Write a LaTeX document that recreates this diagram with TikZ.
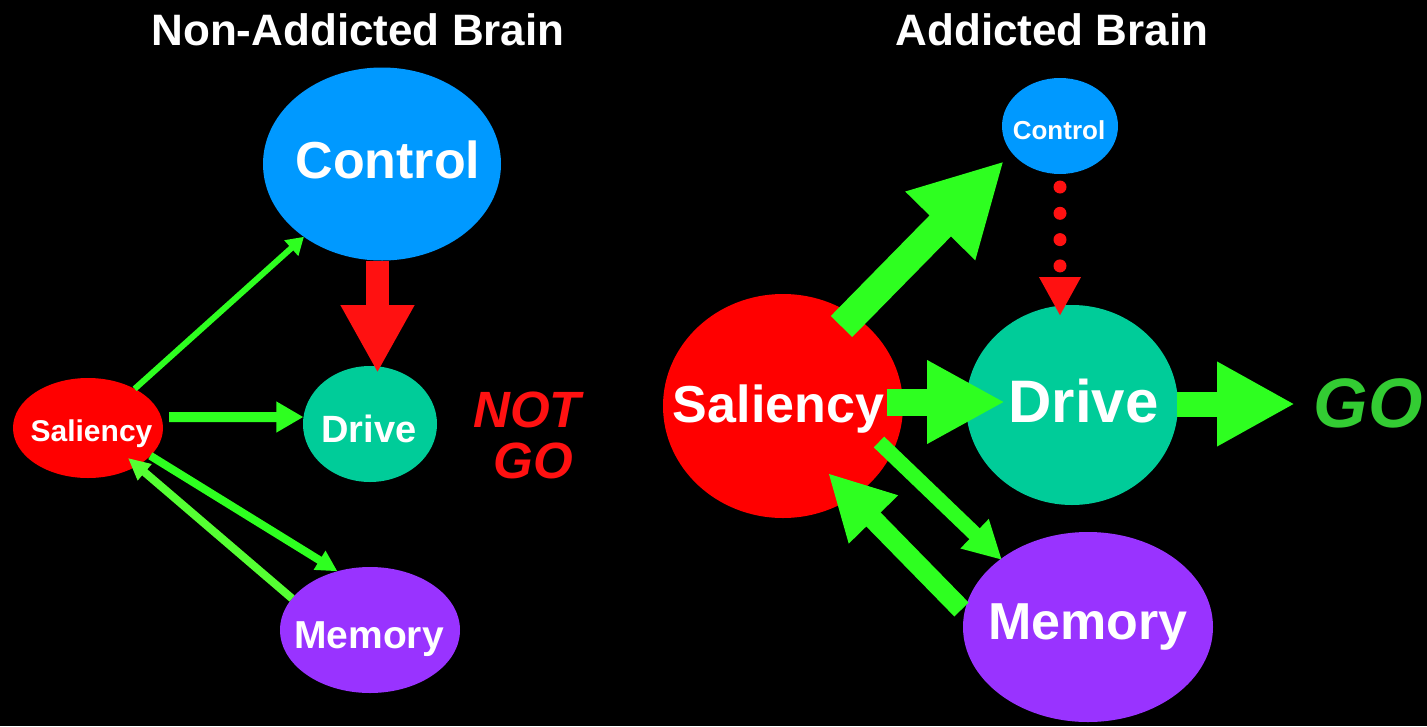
\documentclass[tikz,border=0pt]{standalone}
\usepackage{fontspec}
\setmainfont{Liberation Sans}
\usetikzlibrary{arrows.meta,shapes.geometric,calc}

\definecolor{ctrlblue}{HTML}{0099FF}
\definecolor{drvteal}{HTML}{00CC99}
\definecolor{salred}{HTML}{FF0000}
\definecolor{mempurple}{HTML}{9933FF}
\definecolor{arrgreen}{HTML}{2EFF20}
\definecolor{arrlight}{HTML}{55FF33}
\definecolor{arrred}{HTML}{FF1111}
\definecolor{gogreen}{HTML}{33CC33}

\newcommand{\pxfont}[1]{\fontsize{#1}{#1}\selectfont}

\tikzset{
  bubble/.style={ellipse, inner sep=0pt, outer sep=0pt, draw=none},
  lbl/.style args={#1/#2}{text=white, inner sep=0pt, font=\bfseries\pxfont{#1},
    text height=#2pt, text depth=0pt},
  heading/.style={text=white, inner sep=0pt, font=\bfseries\pxfont{44},
    text height=31.5pt, text depth=0pt},
  verdict/.style={inner sep=0pt, anchor=base, font=\bfseries\itshape\pxfont{#1}},
  thinarr/.style args={#1/#2/#3}{arrgreen, line width=#1pt,
    -{Triangle[length=#2pt,width=#3pt]}},
  blockarr/.style args={#1/#2/#3}{arrgreen, line width=#1pt,
    -{Triangle[length=#2pt,width=#3pt]}},
}

\begin{document}
\begin{tikzpicture}[x=1pt,y=-1pt]
\fill[black] (0,0) rectangle (1427,726);
\useasboundingbox (0,0) rectangle (1427,726);

% headings
\node[heading] (headL) at (358,30) {Non-Addicted Brain};
\node[heading] (headR) at (1052,30) {Addicted Brain};

% ---- non-addicted brain ----
\node[bubble, fill=ctrlblue, minimum width=238, minimum height=193] (conL) at (382,164) {};
\node[bubble, fill=salred, minimum width=150, minimum height=100] (salL) at (88,428) {};
\node[bubble, fill=drvteal, minimum width=134, minimum height=116] (drvL) at (370,424) {};
\node[bubble, fill=mempurple, minimum width=180, minimum height=126] (memL) at (370,630) {};

\draw[thinarr=6/17/20] (salL.40) -- (conL.223);
\draw[thinarr=10/27/29] ($(salL.east)+(6,-11)$) -- (drvL.174);
\draw[thinarr=8/21/21] (salL.-24) -- (memL.119);
\draw[thinarr=8/22/20, arrlight] (memL.158) -- ($(salL)+(40,30)$);
\draw[arrred, line width=23pt, -{Triangle[length=68pt,width=69pt]}]
  ($(conL.south)+(-4.5,0)$) -- ($(drvL.north)+(7.5,7)$);

\node[lbl=52/37.2] (conLt) at (388,160) {Control};
\node[lbl=30/21.5] (salLt) at (91.5,431) {Saliency};
\node[lbl=38/27.2] (drvLt) at (369,428.5) {Drive};
\node[lbl=39/27.9] (memLt) at (369,635) {Memory};

\node[verdict=51, text=arrred] (notL) at (527,427) {NOT};
\node[verdict=51, text=arrred] (goL) at (533,478) {GO};

% ---- addicted brain ----
\node[bubble, fill=ctrlblue, minimum width=116, minimum height=96] (conR) at (1060,126) {};
\node[bubble, fill=salred, minimum width=240, minimum height=224] (salR) at (783,406) {};
\node[bubble, fill=drvteal, minimum width=212, minimum height=200] (drvR) at (1072,405) {};
\node[bubble, fill=mempurple, minimum width=250, minimum height=190] (memR) at (1088,627) {};

\coordinate (goTip) at (1295,404);

\draw[blockarr=30/91/91] ($(salR)+(58.5,-79.5)$) -- ($(conR)+(-56,35)$);
\draw[arrred, line width=13pt, line cap=round, dash pattern=on 0pt off 26.3pt,
  -{Triangle[length=39pt,width=39pt]}]
  ($(conR.south)+(0,13)$) -- ($(drvR.north)+(-12,11)$);
\draw[blockarr=27/78/78] ($(salR)+(104,-4)$) -- ($(drvR)+(-67,-3)$);
\draw[blockarr=25/78/79] ($(drvR.east)+(-1,-1)$) -- (goTip);
\draw[blockarr=15/38/38] ($(salR)+(96,36)$) -- ($(memR)+(-86,-67)$);
\draw[blockarr=20/65/64] ($(memR)+(-126.5,-17.5)$) -- ($(salR)+(45,67)$);

\node[lbl=26/18.6] (conRt) at (1059,130) {Control};
\node[lbl=52/37.2] (salRt) at (778.5,404) {Saliency};
\node[lbl=60/43] (drvRt) at (1083.5,401) {Drive};
\node[lbl=52/37.2] (memRt) at (1088,621) {Memory};

\node[verdict=70, text=gogreen] (goR) at (1368,427) {GO};
\end{tikzpicture}
\end{document}
